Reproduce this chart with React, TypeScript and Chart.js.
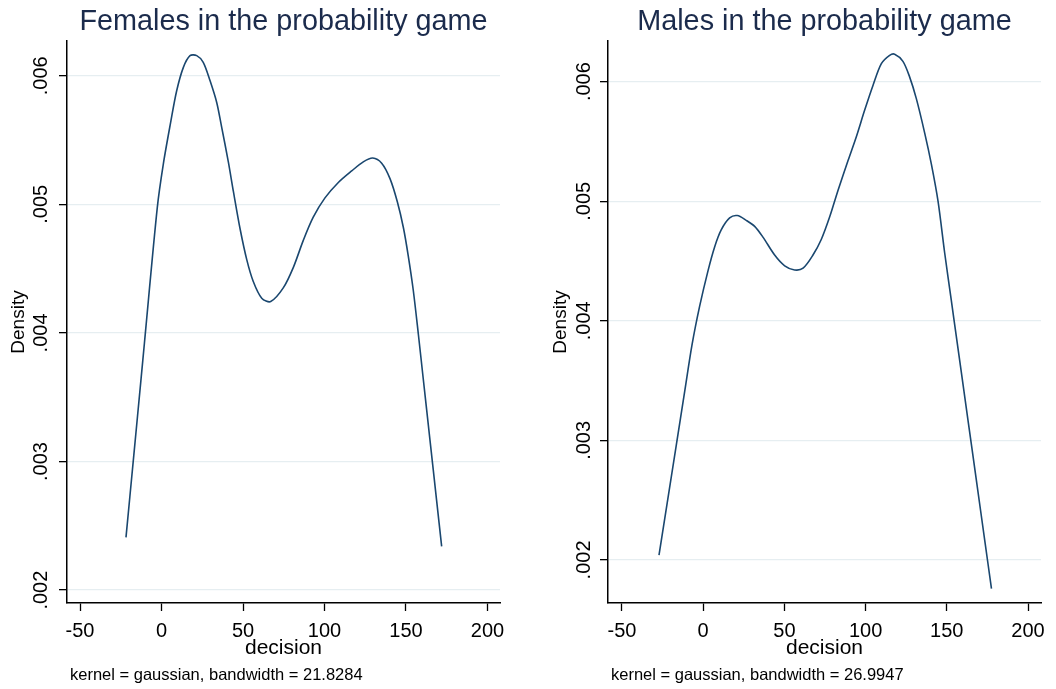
import React, { useEffect, useRef } from "react";
import { Chart, registerables } from "chart.js";

Chart.register(...registerables);

// ---------- data ----------
const femaleX = [-21.8, -17.0, -12.5, -10.5, -2.6, 1.1, 5.6, 9.3, 13.4, 17.5, 21.6, 25.6, 29.8, 33.9, 36.9, 41, 44.1, 48.2, 52.3, 56.3, 61.5, 67, 74.7, 80.9, 87, 93.1, 100.3, 108.5, 116.7, 123.8, 129.6, 135.1, 140.2, 144.7, 148.4, 151.4, 154.5, 157.6, 160.6, 164.7, 168.8, 171.9];
const femaleY = [0.00241, 0.00305, 0.00365, 0.00392, 0.004975, 0.005313, 0.005637, 0.005883, 0.006065, 0.006156, 0.006156, 0.006104, 0.00596, 0.00579, 0.0056, 0.00533, 0.0051, 0.00481, 0.00457, 0.0044, 0.00427, 0.004244, 0.00435, 0.00451, 0.00472, 0.0049, 0.00505, 0.00517, 0.00526, 0.00533, 0.00536, 0.00532, 0.0052, 0.00502, 0.00482, 0.0046, 0.00433, 0.00399, 0.003644, 0.003171, 0.002698, 0.00234];

const maleX = [-27.2, -22.7, -16.6, -11.4, -6.9, -2.2, 3, 7.1, 11.1, 16.3, 21, 26.5, 31.7, 36.8, 44, 50.2, 56.3, 61.5, 67.6, 72.7, 77.9, 83, 89.2, 94.3, 99.4, 104.6, 109.7, 114.8, 117.9, 123, 127.1, 131.2, 136.4, 140.5, 144.6, 148.7, 152.8, 155.9, 159, 163.1, 168.2, 173.4, 177.5];
const maleY = [0.00204, 0.00243, 0.002957, 0.003407, 0.003796, 0.00412, 0.00442, 0.00462, 0.00476, 0.00486, 0.00488, 0.00484, 0.00479, 0.0047, 0.00455, 0.00446, 0.004425, 0.00444, 0.00455, 0.00468, 0.00487, 0.00509, 0.00534, 0.00554, 0.00576, 0.00597, 0.00615, 0.00622, 0.00623, 0.00617, 0.00604, 0.00586, 0.00557, 0.00531, 0.005, 0.004567, 0.004168, 0.003866, 0.003564, 0.003164, 0.002667, 0.00216, 0.00176];

const xTicks = [-50, 0, 50, 100, 150, 200];
const femaleYTicks = [0.002, 0.003, 0.004, 0.005, 0.006];
const maleYTicks = [0.002, 0.003, 0.004, 0.005, 0.006];

const femaleTitle = "Females in the probability game";
const maleTitle = "Males in the probability game";
const femaleNote = "kernel = gaussian, bandwidth = 21.8284";
const maleNote = "kernel = gaussian, bandwidth = 26.9947";
const xAxisTitle = "decision";
const yAxisTitle = "Density";

const FONT = "'Liberation Sans', Arial, Helvetica, sans-serif";
const LINE_COLOR = "rgb(26,71,111)";
const TITLE_COLOR = "#1b2b4c";
const GRID_COLOR = "#e6eef1";

type PanelCfg = {
  xs: number[];
  ys: number[];
  yTicks: number[];
  title: string;
  note: string;
  xMin: number;
  xMax: number;
  yMin: number;
  yMax: number;
  yAxisWidth: number;
  padRight: number;
  yTickPad: number;
  yTitlePad: number;
};

function fmtTick(v: number): string {
  return v.toFixed(3).replace(/^0/, "");
}

function Panel({ cfg, left }: { cfg: PanelCfg; left: number }) {
  const ref = useRef<HTMLCanvasElement | null>(null);
  useEffect(() => {
    if (!ref.current) return;
    const textPlugin = {
      id: "panelText",
      afterDraw(chart: any) {
        const ctx = chart.ctx;
        const ca = chart.chartArea;
        ctx.save();
        ctx.fillStyle = TITLE_COLOR;
        ctx.font = `28.8px ${FONT}`;
        ctx.textAlign = "center";
        ctx.textBaseline = "alphabetic";
        ctx.fillText(cfg.title, (ca.left + ca.right) / 2, 29.5);
        ctx.fillStyle = "#000";
        ctx.font = `16.5px ${FONT}`;
        ctx.textAlign = "left";
        ctx.fillText(cfg.note, ca.left + 3, 680);
        ctx.restore();
      },
    };
    const chart = new Chart(ref.current, {
      type: "line",
      data: {
        datasets: [
          {
            data: cfg.xs.map((x, i) => ({ x, y: cfg.ys[i] })),
            borderColor: LINE_COLOR,
            borderWidth: 1.6,
            pointRadius: 0,
            fill: false,
            tension: 0.3,
          },
        ],
      },
      options: {
        animation: false,
        responsive: false,
        maintainAspectRatio: false,
        layout: { padding: { top: 41, right: cfg.padRight, bottom: 28, left: 0 } },
        plugins: { legend: { display: false }, tooltip: { enabled: false }, title: { display: false } },
        scales: {
          x: {
            type: "linear",
            min: cfg.xMin,
            max: cfg.xMax,
            afterBuildTicks: (scale: any) => {
              scale.ticks = xTicks.map((v) => ({ value: v }));
            },
            afterFit: (scale: any) => {
              scale.height = 58;
            },
            grid: {
              display: true,
              drawOnChartArea: false,
              drawTicks: true,
              tickLength: 8,
              tickColor: "#000",
              tickWidth: 1.3,
            },
            border: { display: true, color: "#000", width: 1.5 },
            ticks: {
              padding: 8,
              color: "#000",
              font: { family: FONT, size: 20 },
              maxRotation: 0,
              autoSkip: false,
              callback: (v: any) => String(v),
            },
            title: {
              display: true,
              text: xAxisTitle,
              color: "#000",
              font: { family: FONT, size: 21 },
              padding: { top: 0, bottom: 0 },
            },
          },
          y: {
            type: "linear",
            min: cfg.yMin,
            max: cfg.yMax,
            afterBuildTicks: (scale: any) => {
              scale.ticks = cfg.yTicks.map((v) => ({ value: v }));
            },
            afterFit: (scale: any) => {
              scale.width = cfg.yAxisWidth;
            },
            grid: {
              display: true,
              drawOnChartArea: true,
              color: GRID_COLOR,
              lineWidth: 1.3,
              drawTicks: true,
              tickLength: 8,
              tickColor: "#000",
              tickWidth: 1.3,
            },
            border: { display: true, color: "#000", width: 1.5 },
            ticks: {
              padding: cfg.yTickPad,
              color: "#000",
              font: { family: FONT, size: 20 },
              minRotation: 90,
              maxRotation: 90,
              crossAlign: "center",
              autoSkip: false,
              callback: (v: any) => fmtTick(Number(v)),
            },
            title: {
              display: true,
              text: yAxisTitle,
              color: "#000",
              font: { family: FONT, size: 19 },
              padding: { top: cfg.yTitlePad, bottom: 0 },
            },
          },
        },
      } as any,
      plugins: [textPlugin],
    });
    return () => chart.destroy();
  }, [cfg]);
  return (
    <canvas
      ref={ref}
      width={528}
      height={689}
      style={{ position: "absolute", left, top: 0, width: 528, height: 689 }}
    />
  );
}

const femaleCfg: PanelCfg = {
  xs: femaleX,
  ys: femaleY,
  yTicks: femaleYTicks,
  title: femaleTitle,
  note: femaleNote,
  xMin: -58,
  xMax: 207.7,
  yMin: 0.0019,
  yMax: 0.00627,
  yAxisWidth: 67,
  padRight: 28,
  yTickPad: -1.5,
  yTitlePad: 7,
};

const maleCfg: PanelCfg = {
  xs: maleX,
  ys: maleY,
  yTicks: maleYTicks,
  title: maleTitle,
  note: maleNote,
  xMin: -58.6,
  xMax: 208,
  yMin: 0.00164,
  yMax: 0.00634,
  yAxisWidth: 80,
  padRight: 15,
  yTickPad: -4,
  yTitlePad: 21,
};

export default function App() {
  return (
    <div style={{ position: "absolute", left: 0, top: 0, width: 1056, height: 689, background: "#fff" }}>
      <Panel cfg={femaleCfg} left={0} />
      <Panel cfg={maleCfg} left={528} />
    </div>
  );
}
